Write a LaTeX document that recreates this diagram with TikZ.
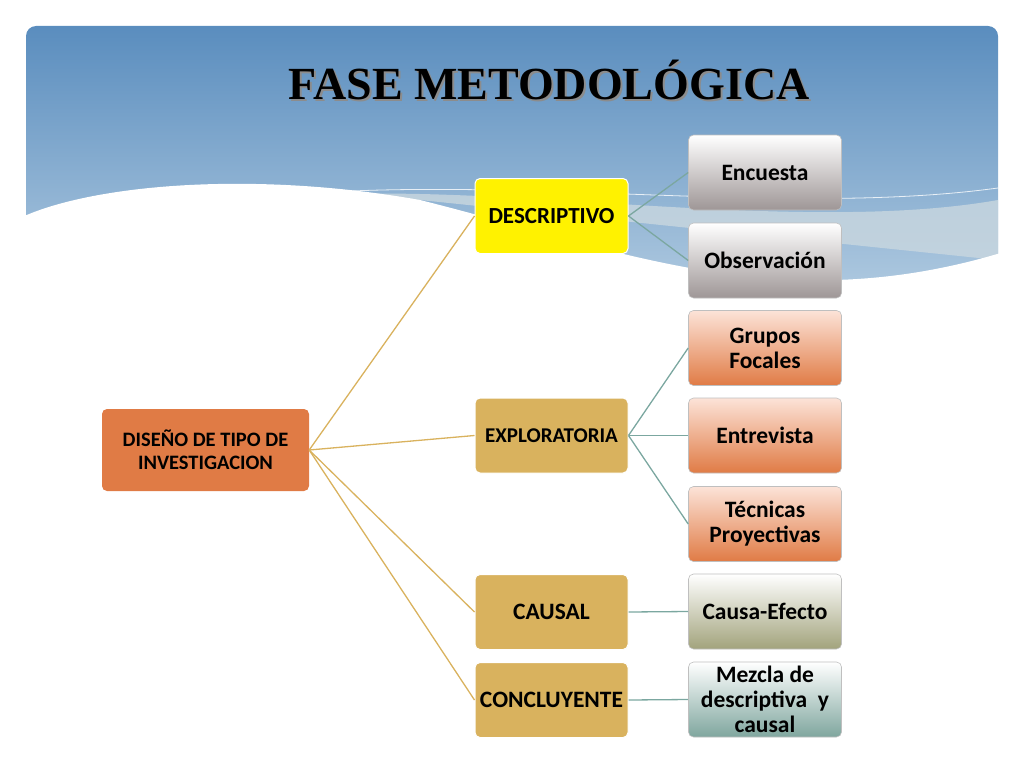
\documentclass[tikz,border=0pt]{standalone}
\usepackage{fontspec}
\setmainfont{Carlito}
\newfontfamily\titlefont{Liberation Serif}
\definecolor{skytop}{HTML}{5A8DBE}
\definecolor{skybot}{HTML}{B4CDE2}
\definecolor{swoosh}{HTML}{C9D7DF}
\definecolor{rootfill}{HTML}{E07B45}
\definecolor{sand}{HTML}{D9B25E}
\definecolor{teal}{HTML}{7BA7A0}
\definecolor{stone}{HTML}{9E9696}
\definecolor{peach}{HTML}{FCE3D8}
\definecolor{olive}{HTML}{A2A37C}
\definecolor{sea}{HTML}{7FA69E}

\begin{document}
\begin{tikzpicture}[x=1pt, y=-1pt,
    box/.style={rectangle, rounded corners=5pt, minimum width=153pt, minimum height=75pt,
        align=center, font=\bfseries\fontsize{23.5}{25}\selectfont, inner sep=1pt},
    kind/.style={box, draw=white, line width=1pt, fill=sand},
    leaf/.style={box, draw=black!25, line width=0.6pt},
    sandline/.style={sand, line width=1.3pt},
    tealline/.style={teal, line width=1.3pt}]
    \useasboundingbox (0,0) rectangle (1024,768);

    % Draw the sky panel
    \shade[top color=skytop, bottom color=skybot, rounded corners=10pt] (26,26) rectangle (998,310);

    % Draw the light swoosh and the white wave
    \fill[swoosh, opacity=0.8] (310,196) .. controls (500,182) and (800,235) .. (998,200)
        -- (998,260) -- (420,200) -- cycle;
    \draw[white, line width=0.8pt, opacity=0.8] (330,192) .. controls (550,180) and (800,215) .. (998,188);
    \fill[white] (20,218) .. controls (90,185) and (250,170) .. (420,200)
        .. controls (620,250) and (780,320) .. (1004,252) -- (1004,320) -- (20,320) -- cycle;

    % Draw the title with its shadow
    \node[text=black!45, font=\titlefont\bfseries\fontsize{46}{46}\selectfont] (titleshadow) at (551,82) {FASE METODOLÓGICA};
    \node[font=\titlefont\bfseries\fontsize{46}{46}\selectfont] (title) at (549,80) {FASE METODOLÓGICA};

    % Draw the root node
    \node[box, fill=rootfill, minimum width=207pt, minimum height=82pt,
        font=\bfseries\fontsize{20.5}{23}\selectfont] (root) at (205.5,450) {DISEÑO DE TIPO DE\\INVESTIGACION};

    % Draw the kinds of research
    \node[kind, fill=yellow, font=\bfseries\fontsize{23}{25}\selectfont] (desc) at (551.5,216) {DESCRIPTIVO};
    \node[kind, font=\bfseries\fontsize{21}{24}\selectfont] (expl) at (551.5,435.5) {EXPLORATORIA};
    \node[kind] (caus) at (551.5,612) {CAUSAL};
    \node[kind] (concl) at (551.5,700) {CONCLUYENTE};

    % Draw the techniques
    \node[leaf, top color=white, bottom color=stone] (encuesta) at (765,172.5) {Encuesta};
    \node[leaf, top color=white, bottom color=stone] (observ) at (765,260.5) {Observación};
    \node[leaf, top color=peach, bottom color=rootfill] (grupos) at (765,348) {Grupos\\Focales};
    \node[leaf, top color=peach, bottom color=rootfill] (entrev) at (765,435.5) {Entrevista};
    \node[leaf, top color=peach, bottom color=rootfill] (tecn) at (765,524) {Técnicas\\Proyectivas};
    \node[leaf, top color=white, bottom color=olive] (efecto) at (765,611.5) {Causa-Efecto};
    \node[leaf, top color=white, bottom color=sea] (mezcla) at (765,699.5) {Mezcla de\\descriptiva\ \ y\\causal};

    % Connect the root to the kinds
    \foreach \k in {desc, expl, caus, concl}
        \draw[sandline] (root.east) -- (\k.west);

    % Connect the kinds to the techniques
    \draw[tealline] (desc.east) -- (encuesta.west);
    \draw[tealline] (desc.east) -- (observ.west);
    \draw[tealline] (expl.east) -- (grupos.west);
    \draw[tealline] (expl.east) -- (entrev.west);
    \draw[tealline] (expl.east) -- (tecn.west);
    \draw[tealline] (caus.east) -- (efecto.west);
    \draw[tealline] (concl.east) -- (mezcla.west);

\end{tikzpicture}
\end{document}
